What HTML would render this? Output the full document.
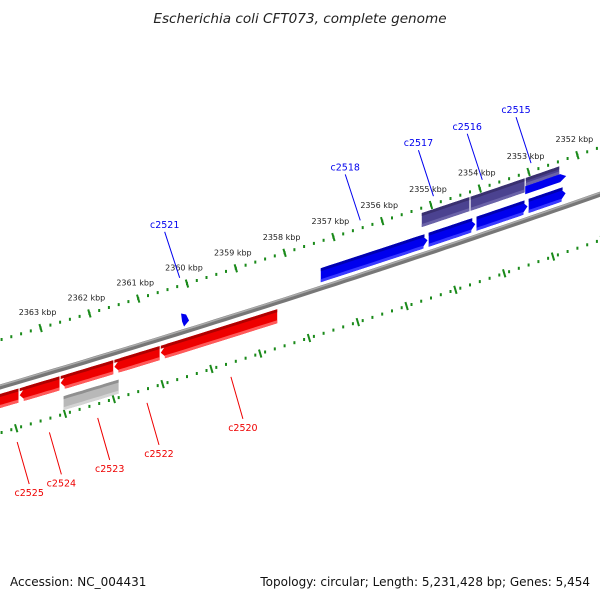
<!DOCTYPE html>
<html><head><meta charset="utf-8"><style>
html,body{margin:0;padding:0;background:#fff;}
svg{display:block;font-family:"DejaVu Sans","Liberation Sans",sans-serif;}
</style></head><body>
<svg id="chart" width="600" height="600" viewBox="0 0 600 600">
<text x="300" y="23" text-anchor="middle" font-size="13.6" font-style="italic" fill="#222">Escherichia coli CFT073, complete genome</text>
<text x="10" y="586" font-size="12" fill="#111">Accession: NC_004431</text>
<text x="590" y="586" text-anchor="end" font-size="12" fill="#111">Topology: circular; Length: 5,231,428 bp; Genes: 5,454</text>
<g id="plot"></g>
</svg>
<script>
// kbp scale ticks
const tickKbp = [2352,2353,2354,2355,2356,2357,2358,2359,2360,2361,2362,2363];
const innerTickKbp = [2351.5,2352.5,2353.5,2354.5,2355.5,2356.5,2357.5,2358.5,2359.5,2360.5,2361.5,2362.5,2363.5];
// features: start/end kbp, strand row
const geneNames = ["c2518","c2517b","c2516b","c2515b","c2517","c2516","c2515","c2521","c2520","c2522","c2523","c2524","c2525","c2523p"];
const geneStart = [2357.27,2355.06,2354.08,2353.01,2355.20,2354.20,2353.07,2360.06,2358.14,2360.55,2361.50,2362.60,2363.44,2362.54];
const geneEnd   = [2355.06,2354.08,2353.01,2352.23,2354.20,2353.07,2352.36,2359.94,2360.55,2361.50,2362.60,2363.44,2364.10,2361.39];
const geneKind  = ["fwd","fwd","fwd","fwd","fwdP","fwdP","fwdP","fwdS","rev","rev","rev","rev","rev","revG"];
// labels
const labelText = ["c2515","c2516","c2517","c2518","c2521","c2520","c2522","c2523","c2524","c2525"];
const labelKbp  = [2352.95,2353.95,2354.95,2356.45,2360.15,2359.10,2360.82,2361.83,2362.82,2363.48];
const labelSide = ["up","up","up","up","up","down","down","down","down","down"];

const NS="http://www.w3.org/2000/svg";
const g=document.getElementById('plot');
function X(k){return 187-48.8*(k-2360);}
function Y(x){return 387-0.293*x-0.000047*x*x;}
function mk(t,a,parent){const e=document.createElementNS(NS,t);for(const k in a)e.setAttribute(k,a[k]);(parent||g).appendChild(e);return e;}
function band(x1,x2,o1,o2,dir){
  const a=6,pts=[];const n=12;const tip=dir>0?x2:x1;
  const b1=dir>0?x1:x1+a, b2=dir>0?x2-a:x2;
  if(dir===0){
    for(let i=0;i<=n;i++){const x=x1+(x2-x1)*i/n;pts.push([x,Y(x)+o1]);}
    for(let i=n;i>=0;i--){const x=x1+(x2-x1)*i/n;pts.push([x,Y(x)+o2]);}
  } else {
    for(let i=0;i<=n;i++){const x=b1+(b2-b1)*i/n;pts.push([x,Y(x)+o1]);}
    if(dir>0)pts.push([tip,Y(tip)+(o1+o2)/2]);
    for(let i=n;i>=0;i--){const x=b1+(b2-b1)*i/n;pts.push([x,Y(x)+o2]);}
    if(dir<0)pts.push([tip,Y(tip)+(o1+o2)/2]);
  }
  return pts.map(p=>p[0].toFixed(1)+','+p[1].toFixed(1)).join(' ');
}
// tracks
function track(off,majors,name){
  const tg=mk('g',{});
  
  
  for(let k=2351;k<=2364.6;k+=0.2){
    const x=X(k);if(x<-5||x>605)continue;
    const y=Y(x)+off;
    const d=mk('rect',{x:(x-1).toFixed(1),y:(y-1.5).toFixed(1),width:2,height:3,fill:'#1a8a1a'},tg);
    
    
  }
  majors.forEach(k=>{
    const x=X(k),y=Y(x)+off;
    const l=mk('line',{x1:x-1.2,y1:y-4,x2:x+1.2,y2:y+4,stroke:'#1a8a1a','stroke-width':2},tg);
    
    
  });
}
track(-47,tickKbp,'outer-scale-track');
track(46,innerTickKbp,'inner-scale-track');
tickKbp.forEach(k=>{
  const x=X(k),y=Y(x)-47-13;
  const t=mk('text',{x:x-3,y:y,'text-anchor':'middle','font-size':8,fill:'#222'});
  t.textContent=k+' kbp';
  
  
});
// backbone
(function(){
  let d='';for(let x=-5;x<=605;x+=10){d+=(x===-5?'M':'L')+x+','+Y(x).toFixed(1);}
  const p=mk('path',{d:d,stroke:'#777','stroke-width':5,fill:'none'});
  
  
  const h=mk('path',{d:d,stroke:'#aaa','stroke-width':1.5,fill:'none',transform:'translate(0,-1.5)'});
  
  
})();
// genes
const style={
  fwd:{o1:-20,o2:-6,dir:1,c:'#0000ee',t:'#0000b0',b:'#3a3aff'},
  fwdP:{o1:-42,o2:-28,dir:0,c:'#4b4290',t:'#3a3070',b:'#6a62a8'},
  fwdS:{o1:-16,o2:-4,dir:1,c:'#0000ee',t:'#0000b0',b:'#3a3aff'},
  rev:{o1:7,o2:21,dir:-1,c:'#ee0000',t:'#b00000',b:'#ff5a5a'},
  revG:{o1:28,o2:42,dir:0,c:'#b8b8b8',t:'#909090',b:'#d4d4d4'}
};
geneNames.forEach((n,i)=>{
  const s=style[geneKind[i]];
  const xa=X(geneStart[i]),xb=X(geneEnd[i]);
  const x1=Math.min(xa,xb),x2=Math.max(xa,xb);
  let o1=s.o1,o2=s.o2;
  if(geneKind[i]==='fwdP'&&i===6){o2=-34;}
  const gg=mk('g',{});
  
  
  if(geneKind[i]==='fwdS'){
    const x=x1,y=Y(x)-14;
    mk('polygon',{points:`${x-3},${y-4} ${x+2},${y-3} ${x+5},${y+3} ${x},${y+9} ${x-2},${y+4}`,fill:'#0000ee'},gg);
    return;
  }
  mk('polygon',{points:band(x1+0.6,x2-0.6,o1,o2,s.dir),fill:s.c},gg);
  mk('polygon',{points:band(x1+0.6,x2-0.6-(s.dir>0?3:0),o1,o1+3,0),fill:s.t},gg);
  mk('polygon',{points:band(x1+0.6+(s.dir<0?4:0),x2-0.6-(s.dir>0?4:0),o2-3,o2,0),fill:s.b},gg);
});
// extra blue under purple c2515
(function(){
  const x1=X(2353.07),x2=X(2352.23);
  const gg=mk('g',{});
  
  
  mk('polygon',{points:band(x1,x2,-34,-26,1),fill:'#0000ee'},gg);
})();
// gene labels
labelText.forEach((t,i)=>{
  const x=X(labelKbp[i]);
  const lg=mk('g',{});
  
  
  if(labelSide[i]==='up'){
    const y0=Y(x)-55;
    mk('line',{x1:x,y1:y0,x2:x-15,y2:y0-46,stroke:'#0000ee','stroke-width':1},lg);
    const tx=mk('text',{x:x-15,y:y0-50,'text-anchor':'middle','font-size':9.5,fill:'#0000ee'},lg);
    tx.textContent=t;
  } else {
    const y0=Y(x)+60;
    mk('line',{x1:x,y1:y0,x2:x+12,y2:y0+42,stroke:'#ee0000','stroke-width':1},lg);
    const tx=mk('text',{x:x+12,y:y0+54,'text-anchor':'middle','font-size':9.5,fill:'#ee0000'},lg);
    tx.textContent=t;
  }
});
</script>
</body></html>
